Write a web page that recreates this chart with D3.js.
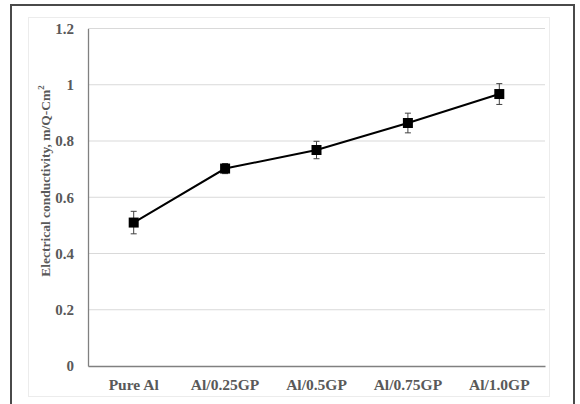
<!DOCTYPE html>
<html>
<head>
<meta charset="utf-8">
<script src="https://cdn.jsdelivr.net/npm/d3@7"></script>
<style>
  body { margin: 0; background: #fff; }
  text { font-family: "Liberation Serif", "Times New Roman", serif; font-weight: bold; fill: #595959; }
</style>
</head>
<body>
<svg width="580" height="404"></svg>
<script>
const categories = ['Pure Al', 'Al/0.25GP', 'Al/0.5GP', 'Al/0.75GP', 'Al/1.0GP'];
const values = [0.51, 0.702, 0.768, 0.864, 0.967];
const errors = [0.04, 0.018, 0.031, 0.035, 0.037];
const yTicks = [0, 0.2, 0.4, 0.6, 0.8, 1, 1.2];

const svg = d3.select('svg');

// outer frame + inner chart area
svg.append('rect').attr('x', 11).attr('y', 5).attr('width', 563).attr('height', 420)
  .attr('fill', 'none').attr('stroke', '#4a4a4a').attr('stroke-width', 2);
svg.append('rect').attr('x', 28.5).attr('y', 17.5).attr('width', 521).attr('height', 379)
  .attr('fill', 'none').attr('stroke', '#ececec').attr('stroke-width', 1);

const pLeft = 88, pRight = 545, pTop = 28.5, pBottom = 366;

const x = d3.scaleBand().domain(categories).range([pLeft, pRight]);
const y = d3.scaleLinear().domain([0, 1.2]).range([pBottom, pTop]);

// grid
svg.append('g')
  .selectAll('line')
  .data(yTicks.filter(d => d > 0))
  .enter()
  .append('line')
  .attr('x1', pLeft).attr('x2', pRight)
  .attr('y1', d => y(d)).attr('y2', d => y(d))
  .attr('stroke', '#d9d9d9').attr('stroke-width', 1);

// y axis
const yAxis = svg.append('g')
  .attr('transform', `translate(${pLeft}, 0)`)
  .call(d3.axisLeft(y).tickValues(yTicks).tickSize(0).tickPadding(14).tickFormat(d => String(+d.toFixed(1))));
yAxis.select('.domain').attr('stroke', '#808080').attr('stroke-width', 1.3);
yAxis.selectAll('text').style('font-size', '15px');

// x axis
const xAxis = svg.append('g')
  .attr('transform', `translate(0, ${pBottom})`)
  .call(d3.axisBottom(x).tickSize(0).tickPadding(13));
xAxis.select('.domain').attr('stroke', '#808080').attr('stroke-width', 1.3);
xAxis.selectAll('text').style('font-size', '15.5px');

const cx = d => x(d) + x.bandwidth() / 2;

// error bars
const eb = svg.append('g').selectAll('g')
  .data(categories)
  .enter()
  .append('g')
  .attr('stroke', '#404040').attr('stroke-width', 1);
eb.append('line')
  .attr('x1', d => cx(d)).attr('x2', d => cx(d))
  .attr('y1', (d, i) => y(values[i] + errors[i])).attr('y2', (d, i) => y(values[i] - errors[i]));
eb.append('line')
  .attr('x1', d => cx(d) - 3).attr('x2', d => cx(d) + 3)
  .attr('y1', (d, i) => y(values[i] + errors[i])).attr('y2', (d, i) => y(values[i] + errors[i]));
eb.append('line')
  .attr('x1', d => cx(d) - 3).attr('x2', d => cx(d) + 3)
  .attr('y1', (d, i) => y(values[i] - errors[i])).attr('y2', (d, i) => y(values[i] - errors[i]));

// line
const line = d3.line()
  .x((d, i) => cx(categories[i]))
  .y(d => y(d));
svg.append('path')
  .datum(values)
  .attr('d', line)
  .attr('fill', 'none')
  .attr('stroke', '#000')
  .attr('stroke-width', 2);

// markers
svg.append('g').selectAll('rect')
  .data(values)
  .enter()
  .append('rect')
  .attr('x', (d, i) => cx(categories[i]) - 5)
  .attr('y', d => y(d) - 5)
  .attr('width', 10).attr('height', 10)
  .attr('fill', '#000');

// y title
const title = svg.append('text')
  .attr('transform', 'translate(50, 181) rotate(-90)')
  .attr('text-anchor', 'middle')
  .style('font-size', '13.5px');
title.append('tspan').text('Electrical conductivity, m/Q-Cm');
title.append('tspan').style('font-size', '9px').attr('dy', -6).text('2');
</script>
</body>
</html>
